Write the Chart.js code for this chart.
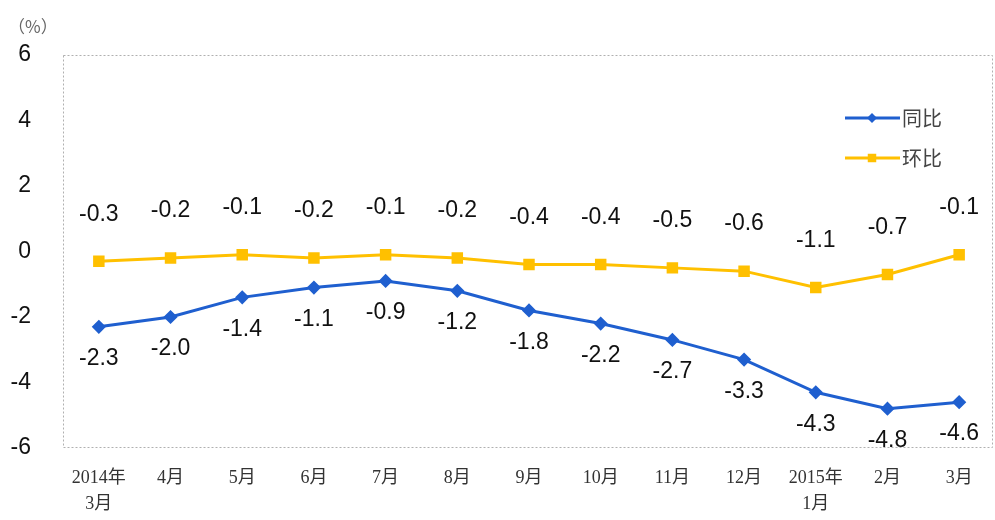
<!DOCTYPE html>
<html lang="zh">
<head>
    <meta charset="UTF-8">
    <title>同比 / 环比</title>
    <script src="https://cdn.jsdelivr.net/npm/chart.js"></script>
    <style>
        html, body { margin: 0; padding: 0; background: #fff; overflow: hidden; }
        canvas { display: block; }
    </style>
</head>
<body>
    <canvas id="priceChart" width="995" height="520"></canvas>

    <script>
        const months = [['2014年', '3月'], '4月', '5月', '6月', '7月', '8月', '9月', '10月', '11月', '12月', ['2015年', '1月'], '2月', '3月'];
        const yoy = [-2.3, -2.0, -1.4, -1.1, -0.9, -1.2, -1.8, -2.2, -2.7, -3.3, -4.3, -4.8, -4.6];
        const mom = [-0.3, -0.2, -0.1, -0.2, -0.1, -0.2, -0.4, -0.4, -0.5, -0.6, -1.1, -0.7, -0.1];
        const yTicks = [-6, -4, -2, 0, 2, 4, 6];

        const BLUE = '#1f5fcf';
        const YELLOW = '#ffc000';

        // value labels, frame, legend and unit drawn by hand
        const extras = {
            id: 'extras',
            afterDatasetsDraw(chart) {
                const c = chart.ctx;
                const area = chart.chartArea;
                c.save();

                // dotted frame
                c.strokeStyle = '#b0b0b0';
                c.lineWidth = 1;
                c.setLineDash([2, 2]);
                c.strokeRect(area.left + 0.5, area.top + 0.5, Math.min(area.right, 993) - area.left - 1, area.bottom - area.top - 1);
                c.setLineDash([]);

                c.font = '23px "Liberation Sans", Arial, sans-serif';
                c.fillStyle = '#111';
                c.textAlign = 'center';
                c.textBaseline = 'middle';
                chart.getDatasetMeta(0).data.forEach((p, i) => {
                    c.fillText(yoy[i].toFixed(1), p.x, p.y + 32);
                });
                chart.getDatasetMeta(1).data.forEach((p, i) => {
                    c.fillText(mom[i].toFixed(1), p.x, p.y - 47);
                });

                // legend
                const items = [
                    { text: '同比', color: BLUE, style: 'rectRot', r: 5, y: 118 },
                    { text: '环比', color: YELLOW, style: 'rect', r: 6, y: 158 }
                ];
                c.font = '20px "Noto Sans CJK SC", sans-serif';
                c.textAlign = 'left';
                items.forEach(it => {
                    c.strokeStyle = it.color;
                    c.lineWidth = 3;
                    c.beginPath();
                    c.moveTo(845, it.y);
                    c.lineTo(900, it.y);
                    c.stroke();
                    c.fillStyle = it.color;
                    Chart.helpers.drawPoint(c, { pointStyle: it.style, radius: it.r, borderWidth: 0 }, 872, it.y);
                    c.fillStyle = '#444';
                    c.fillText(it.text, 902, it.y);
                });

                // unit
                c.font = '17px "Noto Sans CJK SC", sans-serif';
                c.fillStyle = '#666';
                c.textAlign = 'left';
                c.fillText('（%）', 8, 27);
                c.restore();
            }
        };

        new Chart(document.getElementById('priceChart'), {
            type: 'line',
            data: {
                labels: months,
                datasets: [
                    {
                        label: '同比',
                        data: yoy,
                        borderColor: BLUE,
                        backgroundColor: BLUE,
                        borderWidth: 3,
                        pointStyle: 'rectRot',
                        pointRadius: 5,
                        tension: 0
                    },
                    {
                        label: '环比',
                        data: mom,
                        borderColor: YELLOW,
                        backgroundColor: YELLOW,
                        borderWidth: 3,
                        pointStyle: 'rect',
                        pointRadius: 6,
                        tension: 0
                    }
                ]
            },
            options: {
                responsive: false,
                animation: false,
                layout: {
                    autoPadding: false,
                    padding: { top: 55, right: 0, left: 0, bottom: 0 }
                },
                plugins: {
                    legend: { display: false },
                    tooltip: { enabled: false }
                },
                scales: {
                    x: {
                        offset: true,
                        grid: { display: false },
                        border: { display: false },
                        ticks: {
                            color: '#333',
                            font: { family: '"Liberation Serif", "Noto Sans CJK SC", serif', size: 18, lineHeight: 1.45 },
                            maxRotation: 0,
                            autoSkip: false,
                            padding: 9
                        },
                        afterFit: s => {
                            s.height = 72;
                            s.paddingLeft = 0;
                            s.paddingRight = 0;
                        }
                    },
                    y: {
                        min: -6,
                        max: 6,
                        grid: { display: false },
                        border: { display: false },
                        afterBuildTicks: s => { s.ticks = yTicks.map(v => ({ value: v })); },
                        ticks: {
                            color: '#111',
                            font: { family: '"Liberation Sans", Arial, sans-serif', size: 23 },
                            padding: 24
                        },
                        afterFit: s => { s.width = 63; }
                    }
                }
            },
            plugins: [extras]
        });
    </script>
</body>
</html>
